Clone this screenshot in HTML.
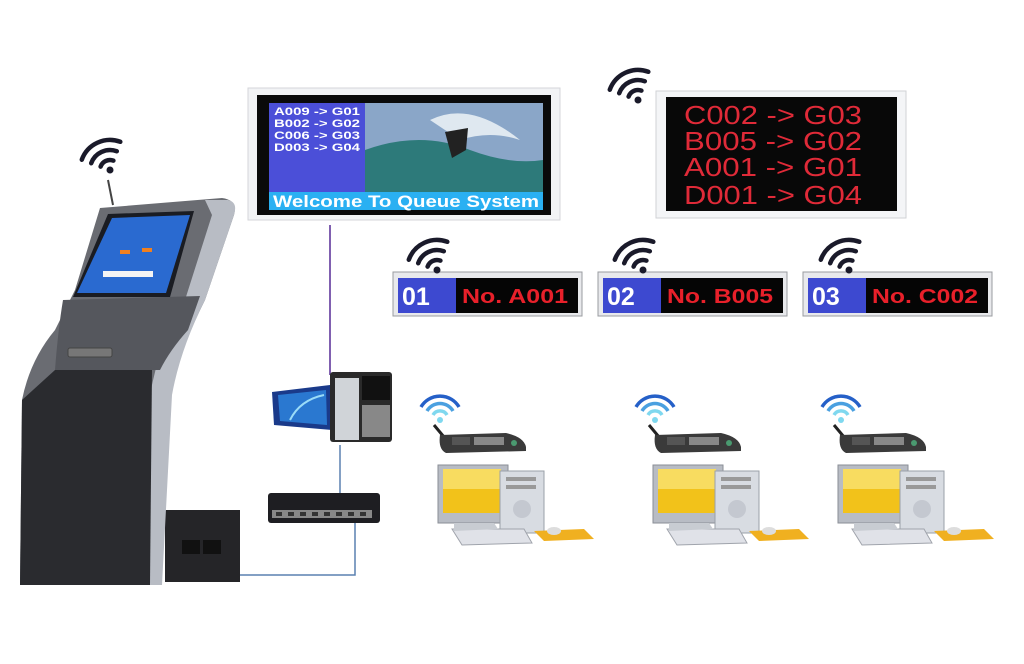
<!DOCTYPE html>
<html><head><meta charset="utf-8"><style>html,body{margin:0;padding:0;background:#fff}svg{display:block}</style></head>
<body>
<svg width="1024" height="664" viewBox="0 0 1024 664" xmlns="http://www.w3.org/2000/svg" font-family="Liberation Sans, sans-serif">
<defs>
<g id="wd">
<circle cx="0" cy="0" r="3.5" fill="#1a1a2a"/>
<path d="M-9.4,-3.4 A10,10 0 0 1 3.4,-9.4 M-18.8,-6.8 A20,20 0 0 1 6.8,-18.8 M-28.2,-10.3 A30,30 0 0 1 10.3,-28.2" stroke="#1a1a2a" stroke-width="4.5" fill="none" stroke-linecap="round"/>
</g>
<g id="wb">
<circle cx="0" cy="0" r="3" fill="#7fd8ef"/>
<path d="M-7,-5 A8,8 0 0 1 7,-5" stroke="#7fd8ef" stroke-width="3.5" fill="none"/>
<path d="M-13,-9 A15,15 0 0 1 13,-9" stroke="#4aa0e0" stroke-width="3.5" fill="none"/>
<path d="M-19,-13 A22,22 0 0 1 19,-13" stroke="#2560c8" stroke-width="3.5" fill="none"/>
</g>
<g id="ws">
<path d="M0,0 L10,12" stroke="#222" stroke-width="3"/>
<path d="M6,10 L72,8 Q90,12 92,22 L92,26 L12,28 Q4,24 6,10Z" fill="#3a3a3a"/>
<rect x="40" y="12" width="30" height="8" fill="#888"/>
<rect x="18" y="12" width="18" height="8" fill="#555"/>
<circle cx="80" cy="18" r="3" fill="#4a9a70"/>
<rect x="4" y="40" width="70" height="58" fill="#b8bcc4" stroke="#8a8e96"/>
<rect x="9" y="44" width="58" height="44" fill="#f2c21a"/>
<rect x="9" y="44" width="58" height="20" fill="#f8dc60"/>
<rect x="66" y="46" width="44" height="62" fill="#d8dce2" stroke="#9aa0a8"/>
<rect x="72" y="52" width="30" height="4" fill="#999"/>
<rect x="72" y="60" width="30" height="4" fill="#999"/>
<circle cx="88" cy="84" r="9" fill="#c4c8d0"/>
<path d="M18,104 L90,104 L98,118 L28,120Z" fill="#e0e2e8" stroke="#a0a4ac"/>
<path d="M20,98 L60,98 L64,104 L20,106Z" fill="#c8ccd2"/>
<path d="M100,106 L150,104 L160,114 L110,116Z" fill="#f0b020"/>
<ellipse cx="120" cy="106" rx="7" ry="4" fill="#ddd"/>
</g>
</defs>

<rect x="248" y="88" width="312" height="132" fill="#f2f3f5" stroke="#d4d6da"/>
<rect x="257" y="95" width="294" height="120" fill="#0a0a0a"/>
<rect x="269" y="103" width="96" height="89" fill="#4b4fd8"/>
<rect x="365" y="103" width="178" height="89" fill="#8aa6c8"/>
<path d="M365,150 Q420,130 470,150 Q510,165 543,160 L543,192 L365,192Z" fill="#2d7a7a"/>
<path d="M430,120 Q470,100 520,140 Q490,130 460,140Z" fill="#dfe8f0"/>
<path d="M445,132 L468,128 L466,150 L452,158Z" fill="#222"/>
<rect x="269" y="192" width="274" height="18" fill="#2ab0f2"/>
<text x="273" y="207" font-size="17" font-weight="bold" fill="#fff" textLength="266" lengthAdjust="spacingAndGlyphs">Welcome To Queue System</text>
<g font-size="11" font-weight="bold" fill="#fff">
<text x="274" y="115" textLength="86" lengthAdjust="spacingAndGlyphs">A009 -&gt; G01</text>
<text x="274" y="127" textLength="86" lengthAdjust="spacingAndGlyphs">B002 -&gt; G02</text>
<text x="274" y="139" textLength="86" lengthAdjust="spacingAndGlyphs">C006 -&gt; G03</text>
<text x="274" y="151" textLength="86" lengthAdjust="spacingAndGlyphs">D003 -&gt; G04</text>
</g>

<rect x="656" y="91" width="250" height="127" fill="#f4f5f7" stroke="#d0d2d6"/>
<rect x="666" y="97" width="231" height="114" fill="#080808"/>
<g font-size="26" fill="#e02a38">
<text x="684" y="124" textLength="178" lengthAdjust="spacingAndGlyphs">C002 -&gt; G03</text>
<text x="684" y="150" textLength="178" lengthAdjust="spacingAndGlyphs">B005 -&gt; G02</text>
<text x="684" y="176" textLength="178" lengthAdjust="spacingAndGlyphs">A001 -&gt; G01</text>
<text x="684" y="204" textLength="178" lengthAdjust="spacingAndGlyphs">D001 -&gt; G04</text>
</g>

<g>
<rect x="393" y="272" width="189" height="44" fill="#e8e9ec" stroke="#9a9ca0"/>
<rect x="398" y="278" width="58" height="35" fill="#3d49d0"/>
<rect x="456" y="278" width="122" height="35" fill="#050505"/>
<text x="402" y="305" font-size="25" font-weight="bold" fill="#fff">01</text>
<text x="462" y="303" font-size="20" font-weight="bold" fill="#e8202a" textLength="106" lengthAdjust="spacingAndGlyphs">No. A001</text>
</g>
<g>
<rect x="598" y="272" width="189" height="44" fill="#e8e9ec" stroke="#9a9ca0"/>
<rect x="603" y="278" width="58" height="35" fill="#3d49d0"/>
<rect x="661" y="278" width="122" height="35" fill="#050505"/>
<text x="607" y="305" font-size="25" font-weight="bold" fill="#fff">02</text>
<text x="667" y="303" font-size="20" font-weight="bold" fill="#e8202a" textLength="106" lengthAdjust="spacingAndGlyphs">No. B005</text>
</g>
<g>
<rect x="803" y="272" width="189" height="44" fill="#e8e9ec" stroke="#9a9ca0"/>
<rect x="808" y="278" width="58" height="35" fill="#3d49d0"/>
<rect x="866" y="278" width="122" height="35" fill="#050505"/>
<text x="812" y="305" font-size="25" font-weight="bold" fill="#fff">03</text>
<text x="872" y="303" font-size="20" font-weight="bold" fill="#e8202a" textLength="106" lengthAdjust="spacingAndGlyphs">No. C002</text>
</g>

<use href="#wd" x="638" y="100"/>
<use href="#wd" x="110" y="170"/>
<use href="#wd" x="437" y="270"/>
<use href="#wd" x="643" y="270"/>
<use href="#wd" x="849" y="270"/>
<use href="#wb" x="440" y="420"/>
<use href="#wb" x="655" y="420"/>
<use href="#wb" x="841" y="420"/>

<use href="#ws" x="434" y="425"/>
<use href="#ws" x="649" y="425"/>
<use href="#ws" x="834" y="425"/>

<path d="M330,225 L330,375" stroke="#8060b0" stroke-width="2" fill="none"/>
<path d="M340,445 L340,498" stroke="#5a80b0" stroke-width="1.5" fill="none"/>
<path d="M355,512 L355,575 L228,575" stroke="#5a80b0" stroke-width="1.5" fill="none"/>

<path d="M272,392 L330,385 L332,430 L274,425Z" fill="#1a3a8a"/>
<path d="M278,395 L326,390 L327,425 L280,421Z" fill="#2a78d0"/>
<path d="M290,420 Q300,400 324,395" stroke="#9adcf8" stroke-width="2" fill="none"/>
<rect x="330" y="372" width="62" height="70" fill="#2a2a2a" rx="3"/>
<rect x="335" y="378" width="24" height="62" fill="#d0d4d8"/>
<rect x="362" y="376" width="28" height="24" fill="#111"/>
<rect x="362" y="405" width="28" height="32" fill="#888"/>

<rect x="268" y="493" width="112" height="30" rx="3" fill="#1e1e22"/>
<rect x="272" y="510" width="100" height="8" fill="#888"/>
<g fill="#333"><rect x="276" y="512" width="6" height="4"/><rect x="288" y="512" width="6" height="4"/><rect x="300" y="512" width="6" height="4"/><rect x="312" y="512" width="6" height="4"/><rect x="324" y="512" width="6" height="4"/><rect x="336" y="512" width="6" height="4"/><rect x="348" y="512" width="6" height="4"/><rect x="360" y="512" width="6" height="4"/></g>

<path d="M108,180 L113,205" stroke="#444" stroke-width="2"/>
<rect x="165" y="510" width="75" height="72" fill="#252528"/>
<rect x="182" y="540" width="18" height="14" fill="#111"/><rect x="203" y="540" width="18" height="14" fill="#111"/>
<path d="M100,208 L222,198 Q238,200 234,215 L205,300 Q180,350 170,390 L160,585 L20,585 L22,400 Q30,360 55,330 L75,290 Z" fill="#6a6c72"/>
<path d="M205,200 L228,200 Q238,202 234,215 L205,300 Q180,350 172,395 L162,585 L148,585 L150,395 Q160,340 185,300 L212,215Z" fill="#b8bcc4"/>
<path d="M55,370 L152,370 L150,585 L20,585 L22,400Z" fill="#2a2b2f"/>
<path d="M63,300 L200,296 L188,330 Q170,350 160,370 L55,370 Q58,330 63,300Z" fill="#55575d"/>
<path d="M108,214 L194,211 L170,297 L73,297Z" fill="#1a1c22"/>
<path d="M112,218 L190,215 L166,293 L77,293Z" fill="#2a6ad0"/>
<rect x="103" y="271" width="50" height="6" fill="#f4f4f4"/>
<rect x="120" y="250" width="10" height="4" fill="#f08020"/><rect x="142" y="248" width="10" height="4" fill="#f08020"/>
<rect x="68" y="348" width="44" height="9" rx="2" fill="#777" stroke="#444"/>
</svg>
</body></html>
